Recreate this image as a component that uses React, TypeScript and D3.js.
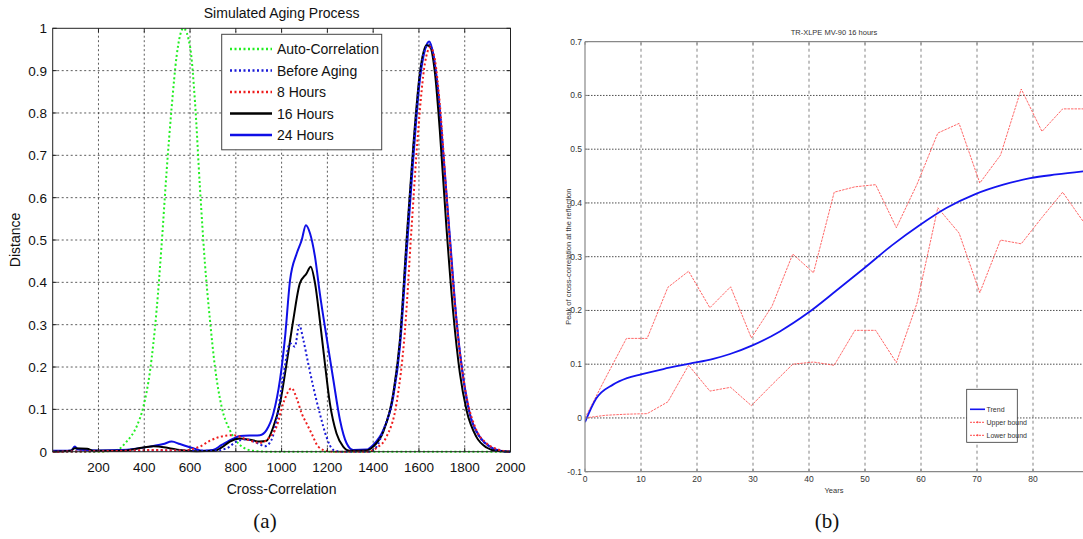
import React from "react";
import * as d3 from "d3";

// ---------- Left chart (a) data: [cross-correlation, distance] ----------
const autoCorr: [number, number][] = [
  [0, 0], [200, 0], [280, 0.004], [323, 0.024], [367, 0.06], [396, 0.106], [425, 0.19], [454, 0.335],
  [476, 0.49], [498, 0.665], [520, 0.815], [541, 0.933], [571, 1.0], [600, 0.957], [622, 0.823],
  [643, 0.626], [665, 0.445], [687, 0.311], [709, 0.2], [738, 0.106], [774, 0.051], [818, 0.016],
  [876, 0.002], [950, 0], [2000, 0],
];
const beforeAging: [number, number][] = [
  [0, 0], [300, 0.002], [500, 0.003], [700, 0.002], [760, 0.008], [803, 0.024], [847, 0.029], [891, 0.021],
  [927, 0.013], [956, 0.028], [978, 0.075], [1007, 0.177], [1037, 0.256], [1058, 0.248], [1077, 0.299],
  [1095, 0.264], [1116, 0.209], [1138, 0.154], [1167, 0.09], [1196, 0.035], [1226, 0.004], [1260, 0],
  [1380, 0], [1415, 0.012], [1444, 0.05], [1488, 0.135], [1517, 0.26], [1546, 0.49], [1575, 0.71],
  [1604, 0.888], [1630, 0.955], [1646, 0.962], [1665, 0.93], [1687, 0.835], [1710, 0.68], [1735, 0.5],
  [1764, 0.31], [1793, 0.176], [1822, 0.09], [1866, 0.034], [1910, 0.012], [1953, 0.002], [2000, 0],
];
const hours8: [number, number][] = [
  [0, 0], [300, 0.002], [450, 0.004], [560, 0.003], [643, 0.012], [687, 0.026], [730, 0.035], [789, 0.039],
  [847, 0.029], [905, 0.021], [949, 0.035], [978, 0.059], [1007, 0.114], [1044, 0.15], [1066, 0.126],
  [1088, 0.09], [1109, 0.067], [1131, 0.043], [1160, 0.012], [1196, 0.002], [1230, 0], [1380, 0],
  [1415, 0.009], [1458, 0.035], [1502, 0.114], [1539, 0.287], [1568, 0.531], [1597, 0.76], [1626, 0.917],
  [1650, 0.955], [1670, 0.925], [1691, 0.823], [1720, 0.61], [1750, 0.39], [1779, 0.232], [1808, 0.13],
  [1851, 0.051], [1895, 0.02], [1953, 0.004], [2000, 0],
];
const hours16: [number, number][] = [
  [0, 0], [80, 0.002], [95, 0.008], [150, 0.007], [180, 0.002], [300, 0.002], [396, 0.01], [440, 0.013],
  [505, 0.009], [556, 0.004], [629, 0.001], [709, 0.002], [738, 0.01], [774, 0.024], [818, 0.031],
  [862, 0.028], [905, 0.024], [934, 0.026], [964, 0.059], [993, 0.114], [1022, 0.209], [1051, 0.311],
  [1080, 0.398], [1109, 0.421], [1127, 0.437], [1146, 0.398], [1167, 0.311], [1189, 0.209], [1211, 0.114],
  [1240, 0.043], [1269, 0.012], [1298, 0.002], [1371, 0.003], [1400, 0.012], [1444, 0.047],
  [1488, 0.138], [1517, 0.264], [1546, 0.5], [1575, 0.72], [1604, 0.894], [1633, 0.96], [1648, 0.957],
  [1670, 0.894], [1691, 0.76], [1720, 0.531], [1750, 0.327], [1779, 0.185], [1808, 0.098], [1851, 0.035],
  [1895, 0.01], [1939, 0.002], [2000, 0],
];
const hours24: [number, number][] = [
  [0, 0.002], [80, 0.003], [97, 0.012], [110, 0.005], [200, 0.003], [300, 0.004], [425, 0.012],
  [483, 0.018], [520, 0.024], [556, 0.018], [614, 0.008], [658, 0.002], [700, 0.004], [738, 0.016],
  [789, 0.031], [818, 0.037], [905, 0.039], [934, 0.051], [964, 0.09], [993, 0.17], [1015, 0.27],
  [1037, 0.405], [1066, 0.468], [1088, 0.5], [1106, 0.535], [1124, 0.516], [1146, 0.46], [1167, 0.374],
  [1196, 0.272], [1226, 0.17], [1255, 0.075], [1284, 0.02], [1313, 0.004], [1371, 0.005], [1400, 0.016],
  [1444, 0.051], [1488, 0.13], [1517, 0.248], [1546, 0.468], [1575, 0.69], [1604, 0.878], [1626, 0.949],
  [1645, 0.969], [1662, 0.94], [1684, 0.846], [1706, 0.705], [1735, 0.508], [1764, 0.311], [1793, 0.177],
  [1822, 0.09], [1866, 0.035], [1910, 0.012], [1953, 0.002], [2000, 0],
];
const leftXTicks = [200, 400, 600, 800, 1000, 1200, 1400, 1600, 1800, 2000];
const leftYTicks = [0, 0.1, 0.2, 0.3, 0.4, 0.5, 0.6, 0.7, 0.8, 0.9, 1];
const leftLegend = ["Auto-Correlation", "Before Aging", "8 Hours", "16 Hours", "24 Hours"];

// ---------- Right chart (b) data ----------
const years = [0, 3.7, 7.4, 11.1, 14.8, 18.5, 22.3, 26, 29.7, 33.4, 37.1, 40.8, 44.5, 48.2, 51.9, 55.6,
  59.3, 63, 66.8, 70.5, 74.2, 77.9, 81.6, 85.3, 89];
const upperBound = [0.0, 0.075, 0.148, 0.148, 0.243, 0.273, 0.205, 0.244, 0.149, 0.208, 0.305, 0.27,
  0.42, 0.43, 0.434, 0.354, 0.435, 0.53, 0.548, 0.437, 0.489, 0.612, 0.533, 0.575, 0.575];
const lowerBound = [0.0, 0.005, 0.007, 0.008, 0.03, 0.098, 0.05, 0.057, 0.023, 0.062, 0.1, 0.104,
  0.098, 0.163, 0.163, 0.103, 0.214, 0.391, 0.344, 0.233, 0.331, 0.324, 0.373, 0.42, 0.365];
const trendYears = [0, 2, 5, 7.5, 10, 14, 18.7, 22.9, 25.9, 29.9, 34.8, 39.9, 44.9, 49.9, 54.8, 59.8,
  64.6, 69.6, 74.7, 79.5, 84.2, 89];
const trendValues = [-0.008, 0.036, 0.062, 0.074, 0.081, 0.091, 0.101, 0.11, 0.119, 0.135, 0.161,
  0.196, 0.237, 0.279, 0.321, 0.359, 0.391, 0.416, 0.434, 0.446, 0.453, 0.459];
const rightXTicks = [0, 10, 20, 30, 40, 50, 60, 70, 80];
const rightYTicks = [-0.1, 0, 0.1, 0.2, 0.3, 0.4, 0.5, 0.6, 0.7];
const rightLegend = ["Trend", "Upper bound", "Lower bound"];

const SANS = "'Liberation Sans', Arial, Helvetica, sans-serif";
const NARROW = "'Liberation Sans Narrow', 'Arial Narrow', 'Liberation Sans', sans-serif";
const SERIF = "'Liberation Serif', 'Times New Roman', serif";

export default function App() {
  const xL = d3.scaleLinear().domain([0, 2000]).range([52.7, 510.5]);
  const yL = d3.scaleLinear().domain([0, 1]).range([451.7, 28.3]);
  const xR = d3.scaleLinear().domain([0, 89]).range([585, 1083.4]);
  const yR = d3.scaleLinear().domain([-0.1, 0.7]).range([471.7, 41.7]);

  const lineL = d3.line<[number, number]>().x((d) => xL(d[0])).y((d) => yL(d[1])).curve(d3.curveMonotoneX);
  const lineR = d3.line<[number, number]>().x((d) => xR(d[0])).y((d) => yR(d[1]));
  const lineTrend = d3.line<[number, number]>().x((d) => xR(d[0])).y((d) => yR(d[1])).curve(d3.curveMonotoneX);

  const leftSeries = [
    { data: autoCorr, color: "#22ee22", dash: "2,2.5", w: 2 },
    { data: beforeAging, color: "#1a1ad8", dash: "2,2.5", w: 2 },
    { data: hours8, color: "#ee1c1c", dash: "2,2.5", w: 2 },
    { data: hours16, color: "#000000", dash: "none", w: 2 },
    { data: hours24, color: "#0f0fe6", dash: "none", w: 2 },
  ];
  const drawOrder = [0, 4, 3, 1, 2];

  const upperPts = years.map((y, i) => [y, upperBound[i]] as [number, number]);
  const lowerPts = years.map((y, i) => [y, lowerBound[i]] as [number, number]);
  const trendPts = trendYears.map((y, i) => [y, trendValues[i]] as [number, number]);

  const [l0, l1] = xL.range();
  const [lb, lt] = yL.range();
  const [r0, r1] = xR.range();
  const [rb, rt] = yR.range();

  return (
    <svg width={1083} height={539} style={{ position: "absolute", left: 0, top: 0, background: "#fff" }}>
      <rect x={0} y={0} width={1083} height={539} fill="#fff" />
      <defs>
        <clipPath id="clipL">
          <rect x={l0} y={lt - 2} width={l1 - l0} height={lb - lt + 4} />
        </clipPath>
        <clipPath id="clipR">
          <rect x={r0} y={rt} width={r1 - r0} height={rb - rt} />
        </clipPath>
      </defs>
      {/* ===== Left chart ===== */}
      {leftXTicks.filter((t) => t < 2000).map((t) => (
        <line key={"gxl" + t} x1={xL(t)} x2={xL(t)} y1={lb} y2={lt} stroke="#333" strokeWidth={0.8} strokeDasharray="2,2.5" />
      ))}
      {leftYTicks.filter((t) => t > 0 && t < 1).map((t) => (
        <line key={"gyl" + t} x1={l0} x2={l1} y1={yL(t)} y2={yL(t)} stroke="#333" strokeWidth={0.8} strokeDasharray="2,2.5" />
      ))}
      <g clipPath="url(#clipL)">
        {drawOrder.map((i) => {
          const s = leftSeries[i];
          return (
            <path key={"ls" + i} d={lineL(s.data) || ""} fill="none" stroke={s.color} strokeWidth={s.w}
              strokeDasharray={s.dash} strokeLinejoin="round" />
          );
        })}
      </g>
      <rect x={l0} y={lt} width={l1 - l0} height={lb - lt} fill="none" stroke="#222" strokeWidth={1} />
      {leftXTicks.map((t) => (
        <g key={"xtl" + t}>
          <line x1={xL(t)} x2={xL(t)} y1={lb} y2={lb - 4} stroke="#222" />
          <line x1={xL(t)} x2={xL(t)} y1={lt} y2={lt + 4} stroke="#222" />
          <text x={xL(t)} y={472} textAnchor="middle" fontFamily={SANS} fontSize={13.5} fill="#111">{t}</text>
        </g>
      ))}
      {leftYTicks.map((t) => (
        <g key={"ytl" + t}>
          <line x1={l0} x2={l0 + 4} y1={yL(t)} y2={yL(t)} stroke="#222" />
          <line x1={l1} x2={l1 - 4} y1={yL(t)} y2={yL(t)} stroke="#222" />
          <text x={47} y={yL(t) + 5} textAnchor="end" fontFamily={SANS} fontSize={13.5} fill="#111">{t}</text>
        </g>
      ))}
      <text x={(l0 + l1) / 2} y={18} textAnchor="middle" fontFamily={SANS} fontSize={14} fill="#111">Simulated Aging Process</text>
      <text x={(l0 + l1) / 2} y={494} textAnchor="middle" fontFamily={SANS} fontSize={14} fill="#111">Cross-Correlation</text>
      <text transform={`translate(20,${(lb + lt) / 2}) rotate(-90)`} textAnchor="middle" fontFamily={SANS} fontSize={14} fill="#111">Distance</text>
      <rect x={221.7} y={34.3} width={160} height={115.5} fill="#fff" stroke="#444" strokeWidth={1} />
      {leftLegend.map((name, i) => {
        const s = leftSeries[i];
        const y = 49 + i * 21.5;
        return (
          <g key={"lg" + i}>
            <line x1={230} x2={272} y1={y} y2={y} stroke={s.color} strokeWidth={s.w + 0.5} strokeDasharray={s.dash} />
            <text x={277} y={y + 5} fontFamily={SANS} fontSize={14} fill="#111">{name}</text>
          </g>
        );
      })}
      <text x={265} y={528} textAnchor="middle" fontFamily={SERIF} fontSize={21} fill="#111">(a)</text>

      {/* ===== Right chart ===== */}
      {rightXTicks.filter((t) => t > 0).map((t) => (
        <line key={"gxr" + t} x1={xR(t)} x2={xR(t)} y1={rb} y2={rt} stroke="#666" strokeWidth={0.8} strokeDasharray="3,3" />
      ))}
      {rightYTicks.filter((t) => t > -0.1 && t < 0.7).map((t) => (
        <line key={"gyr" + t} x1={r0} x2={r1} y1={yR(t)} y2={yR(t)} stroke="#222" strokeWidth={0.8} strokeDasharray="1.5,1.5" />
      ))}
      <g clipPath="url(#clipR)">
        <path d={lineR(upperPts) || ""} fill="none" stroke="#ff4d4d" strokeWidth={1} strokeDasharray="2.5,1" opacity={0.85} />
        <path d={lineR(lowerPts) || ""} fill="none" stroke="#ff4d4d" strokeWidth={1} strokeDasharray="2.5,1" opacity={0.85} />
        <path d={lineTrend(trendPts) || ""} fill="none" stroke="#1414f0" strokeWidth={1.8} />
      </g>
      <line x1={r0} x2={1083} y1={rt} y2={rt} stroke="#888" strokeWidth={1.2} />
      <line x1={r0} x2={1083} y1={rb} y2={rb} stroke="#888" strokeWidth={1.2} />
      <line x1={r0} x2={r0} y1={rt} y2={rb} stroke="#888" strokeWidth={1.2} />
      {rightXTicks.map((t) => (
        <g key={"xtr" + t}>
          <line x1={xR(t)} x2={xR(t)} y1={rb} y2={rb - 3} stroke="#888" />
          <line x1={xR(t)} x2={xR(t)} y1={rt} y2={rt + 3} stroke="#888" />
          <text x={xR(t)} y={482} textAnchor="middle" fontFamily={NARROW} fontSize={8.5} fill="#333">{t}</text>
        </g>
      ))}
      {rightYTicks.map((t) => (
        <g key={"ytr" + t}>
          <line x1={r0} x2={r0 + 3} y1={yR(t)} y2={yR(t)} stroke="#888" />
          <text x={582} y={yR(t) + 3} textAnchor="end" fontFamily={NARROW} fontSize={8.5} fill="#333">{t}</text>
        </g>
      ))}
      <text x={834} y={35} textAnchor="middle" fontFamily={NARROW} fontSize={7.5} fill="#333">TR-XLPE MV-90 16 hours</text>
      <text x={834} y={493} textAnchor="middle" fontFamily={NARROW} fontSize={7.5} fill="#333">Years</text>
      <text transform={`translate(571,${(rb + rt) / 2}) rotate(-90)`} textAnchor="middle" fontFamily={NARROW} fontSize={7.5} fill="#333">Peak of cross-correlation at the reflection</text>
      <rect x={966.7} y={389.3} width={50.6} height={53} fill="#fff" stroke="#333" strokeWidth={0.8} />
      {rightLegend.map((name, i) => {
        const y = 409.3 + i * 13;
        const isTrend = i === 0;
        return (
          <g key={"rg" + i}>
            <line x1={970} x2={985} y1={y} y2={y} stroke={isTrend ? "#1414f0" : "#ff4d4d"}
              strokeWidth={isTrend ? 1.6 : 1} strokeDasharray={isTrend ? "none" : "2,1"} />
            {!isTrend && <circle cx={977.5} cy={y} r={1} fill="#ff4d4d" />}
            <text x={986.5} y={y + 2.5} fontFamily={NARROW} fontSize={7} fill="#333">{name}</text>
          </g>
        );
      })}
      <text x={827} y={528} textAnchor="middle" fontFamily={SERIF} fontSize={21} fill="#111">(b)</text>
    </svg>
  );
}
